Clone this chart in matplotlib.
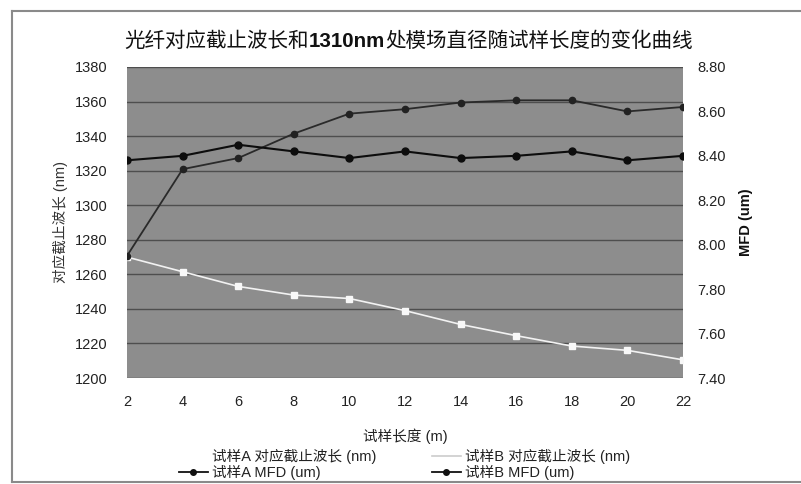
import matplotlib.pyplot as plt
from matplotlib.lines import Line2D

plt.rcParams['font.family'] = ['Liberation Sans', 'Noto Sans CJK SC']

# sample length (m)
length = [2, 4, 6, 8, 10, 12, 14, 16, 18, 20, 22]
# cutoff wavelength, sample A (nm)
cutoff_a = [1270, 1261.5, 1253, 1248, 1246, 1239, 1231, 1224.5, 1218.5, 1216, 1210.5]
# MFD (um)
mfd_a = [8.38, 8.40, 8.45, 8.42, 8.39, 8.42, 8.39, 8.40, 8.42, 8.38, 8.40]
mfd_b = [7.95, 8.34, 8.39, 8.50, 8.59, 8.61, 8.64, 8.65, 8.65, 8.60, 8.62]

left_ticks = list(range(1200, 1381, 20))
right_ticks = [7.4, 7.6, 7.8, 8.0, 8.2, 8.4, 8.6, 8.8]
x_ticks = list(range(2, 23, 2))

fig = plt.figure(figsize=(8.01, 4.84), dpi=100)
ax = fig.add_axes([0.1586, 0.219, 0.6941, 0.6426])
ax.set_facecolor('#8d8d8d')
ax2 = ax.twinx()

ax.plot(length, cutoff_a, color='#f2f2f2', lw=1.2, marker='s', ms=4,
        mfc='#f8f8f8', mec='#f8f8f8', zorder=3)
ax2.plot(length, mfd_b, color='#2a2a2a', lw=1.3, marker='o', ms=4.5,
         mfc='#222222', mec='#222222', zorder=3)
ax2.plot(length, mfd_a, color='#0d0d0d', lw=1.5, marker='o', ms=5,
         mfc='#0d0d0d', mec='#0d0d0d', zorder=3)

ax.set_xlim(2, 22)
ax.set_ylim(1200, 1380)
ax2.set_ylim(7.4, 8.8)
ax.set_xticks(x_ticks)
ax.set_yticks(left_ticks)
ax2.set_yticks(right_ticks)
ax2.set_yticklabels(['%.2f' % v for v in right_ticks])
ax.yaxis.grid(True, color='#4e4e4e', lw=1.0)
ax.set_axisbelow(True)

for a in (ax, ax2):
    for s in a.spines.values():
        s.set_visible(False)
    a.tick_params(length=0, labelsize=10.5, colors='#222222')
ax.tick_params(axis='y', pad=14)
ax.tick_params(axis='x', pad=12)
ax2.tick_params(axis='y', pad=10)

ax.set_ylabel('对应截止波长 (nm)', fontsize=10.5, color='#333333', labelpad=5)
ax2.set_ylabel('MFD (um)', fontsize=10.5, fontweight='bold', color='#111111', labelpad=10)
ax.set_xlabel('试样长度 (m)', fontsize=10.5, color='#222222', labelpad=14)

# title with bold "1310nm" in the middle
parts = [('光纤对应截止波长和', 'normal'), ('1310nm', 'bold'),
         ('处模场直径随试样长度的变化曲线', 'normal')]
renderer = fig.canvas.get_renderer()
texts = []
widths = []
for s, w in parts:
    t = fig.text(0, 0.915, s, ha='left', va='center', fontsize=14.8,
                 fontweight=w, color='#111111')
    texts.append(t)
    widths.append(t.get_window_extent(renderer).width / fig.bbox.width)
x0 = 0.51 - sum(widths) / 2
for t, wd in zip(texts, widths):
    t.set_x(x0)
    x0 += wd

handles = [
    Line2D([], [], color='white', lw=1.2),
    Line2D([], [], color='#111111', lw=1.3, marker='o', ms=4),
    Line2D([], [], color='#cccccc', lw=1.2),
    Line2D([], [], color='#111111', lw=1.3, marker='o', ms=4),
]
labels = ['试样A 对应截止波长 (nm)', '试样A MFD (um)',
          '试样B 对应截止波长 (nm)', '试样B MFD (um)']
fig.legend(handles, labels, ncol=2, loc='center', bbox_to_anchor=(0.505, 0.04),
           frameon=False, fontsize=10.5, handlelength=2.0, handletextpad=0.3,
           columnspacing=3.8, labelspacing=0.1, labelcolor='#222222')

# outer frame (open on the right)
fc = '#8a8a8a'
fig.add_artist(Line2D([12 / 801, 12 / 801], [1 - 11 / 484, 1 - 482 / 484],
                      transform=fig.transFigure, color=fc, lw=1.5))
fig.add_artist(Line2D([12 / 801, 1.0], [1 - 11 / 484, 1 - 11 / 484],
                      transform=fig.transFigure, color=fc, lw=1.5))
fig.add_artist(Line2D([12 / 801, 1.0], [1 - 482 / 484, 1 - 482 / 484],
                      transform=fig.transFigure, color=fc, lw=1.5))

fig.savefig('out.png', dpi=100)
